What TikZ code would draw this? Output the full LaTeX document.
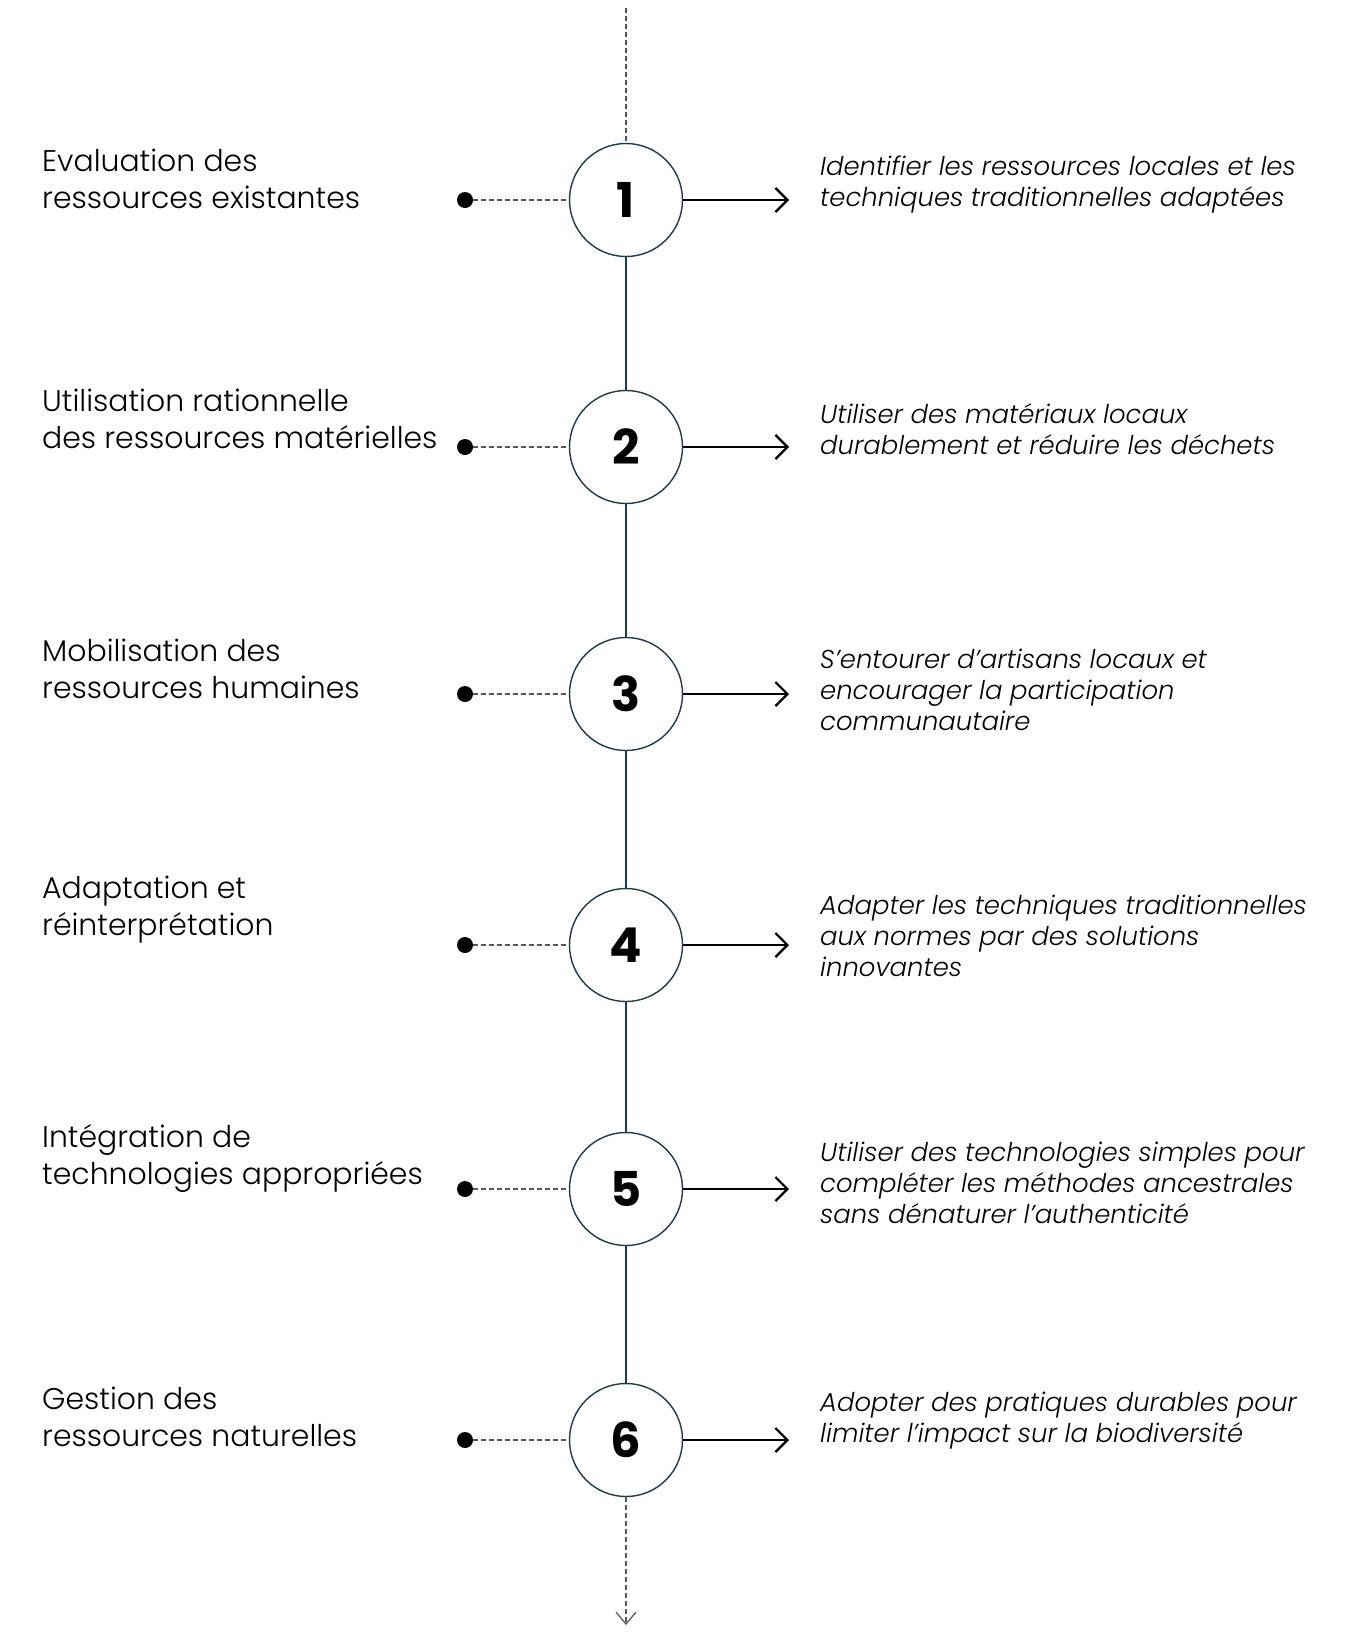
\documentclass[tikz,border=0pt]{standalone}
\usepackage{fontspec}
\setmainfont{Poppins Light}[ItalicFont={Poppins Light Italic}]
\newfontfamily\numfont{Poppins}
\usetikzlibrary{arrows.meta}
\definecolor{ringc}{HTML}{1E3A4C}
\definecolor{dashgrey}{HTML}{555555}
\begin{document}
\begin{tikzpicture}[x=1pt,y=-1pt,
  ring/.style={circle, draw=ringc, line width=1.4pt, minimum size=113pt, inner sep=0pt, fill=white, font=\numfont\fontsize{48}{48}\selectfont\bfseries},
  lefttxt/.style={anchor=west, align=left, inner sep=0pt, font=\fontsize{29.9}{37}\selectfont},
  righttxt/.style={anchor=west, align=left, inner sep=0pt, font=\fontsize{25.9}{31}\selectfont\itshape},
  dot/.style={circle, fill=black, minimum size=16pt, inner sep=0pt},
  leader/.style={draw=dashgrey, line width=1.2pt, dash pattern=on 5pt off 3pt},
  spine/.style={draw=ringc, line width=1.4pt},
  outarrow/.style={draw=black, line width=2.2pt, -{Straight Barb[length=12pt, width=24pt, line width=2.2pt]}},
  endarrow/.style={draw=dashgrey, line width=1.2pt, dash pattern=on 5pt off 3pt, -{Straight Barb[length=12pt, width=20pt, line width=1.2pt]}}
]
\path[use as bounding box, fill=white] (0,0) rectangle (1349,1639);

% circles
\node[ring] (c1) at (626,200) {1};
\node[ring] (c2) at (626,447) {2};
\node[ring] (c3) at (626,694) {3};
\node[ring] (c4) at (626,945) {4};
\node[ring] (c5) at (626,1189) {5};
\node[ring] (c6) at (626,1440) {6};

% dots
\node[dot] (d1) at (465,200) {};
\node[dot] (d2) at (465,447) {};
\node[dot] (d3) at (465,694) {};
\node[dot] (d4) at (465,945) {};
\node[dot] (d5) at (465,1189) {};
\node[dot] (d6) at (465,1440) {};

% arrow ends
\coordinate (a1) at (789,200);
\coordinate (a2) at (789,447);
\coordinate (a3) at (789,694);
\coordinate (a4) at (789,945);
\coordinate (a5) at (789,1189);
\coordinate (a6) at (789,1440);

\coordinate (top) at (626,8);
\coordinate (bot) at (626,1625);

% spine
\draw[leader] (top) -- (c1.north);
\draw[spine] (c1.south) -- (c2.north);
\draw[spine] (c2.south) -- (c3.north);
\draw[spine] (c3.south) -- (c4.north);
\draw[spine] (c4.south) -- (c5.north);
\draw[spine] (c5.south) -- (c6.north);
\draw[endarrow] (c6.south) -- (bot);

\foreach \i in {1,...,6}{
  \draw[leader] (d\i) -- (c\i.west);
  \draw[outarrow] (c\i.east) -- (a\i);
}

% left texts
\node[lefttxt] (l1) at (42,179) {Evaluation des\\ressources existantes};
\node[lefttxt] (l2) at (42,419) {Utilisation rationnelle\\des ressources matérielles};
\node[lefttxt] (l3) at (42,669) {Mobilisation des\\ressources humaines};
\node[lefttxt] (l4) at (42,910) {Adaptation et\\réinterprétation};
\node[lefttxt] (l5) at (42,1158) {Intégration de\\technologies appropriées};
\node[lefttxt] (l6) at (42,1417) {Gestion des\\ressources naturelles};

% right texts
\node[righttxt] (r1) at (820,185) {Identifier les ressources locales et les\\techniques traditionnelles adaptées};
\node[righttxt] (r2) at (820,429) {Utiliser des matériaux locaux\\durablement et réduire les déchets};
\node[righttxt] (r3) at (820,690) {S’entourer d’artisans locaux et\\encourager la participation\\communautaire};
\node[righttxt] (r4) at (820,936) {Adapter les techniques traditionnelles\\aux normes par des solutions\\innovantes};
\node[righttxt] (r5) at (820,1183) {Utiliser des technologies simples pour\\compléter les méthodes ancestrales\\sans dénaturer l’authenticité};
\node[righttxt] (r6) at (820,1421) {Adopter des pratiques durables pour\\limiter l’impact sur la biodiversité};
\end{tikzpicture}
\end{document}
